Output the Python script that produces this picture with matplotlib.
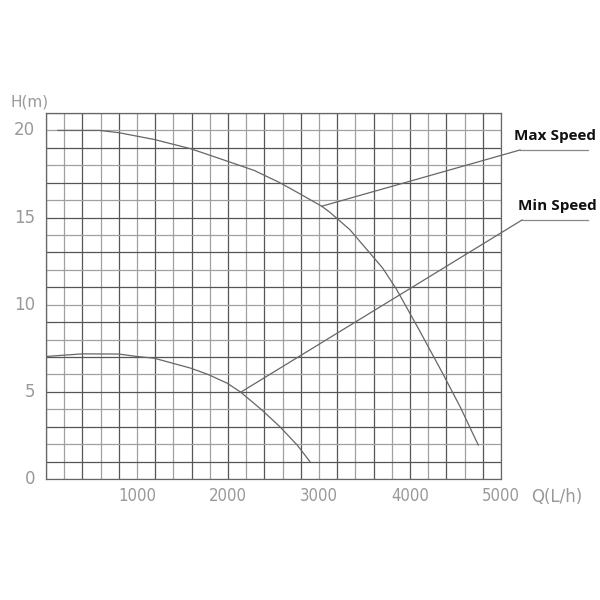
import matplotlib
matplotlib.use("Agg")
import matplotlib.pyplot as plt
import numpy as np

# Data
max_q = [130, 590, 800, 1190, 1590, 1990, 2290, 2570, 2760, 3030, 3120, 3340, 3520, 3700, 3850, 4100, 4355, 4555, 4750]
max_h = [20.0, 20.0, 19.87, 19.48, 18.95, 18.24, 17.7, 17.0, 16.45, 15.65, 15.3, 14.3, 13.2, 12.1, 10.9, 8.56, 6.1, 4.1, 1.95]
min_q = [0, 400, 800, 1000, 1190, 1590, 1780, 1990, 2140, 2370, 2570, 2760, 2900]
min_h = [7.03, 7.18, 7.17, 7.03, 6.93, 6.36, 6.0, 5.5, 4.98, 3.97, 3.0, 1.95, 1.0]
x_ticks = [1000, 2000, 3000, 4000, 5000]
x_tick_labels = ["1000", "2000", "3000", "4000", "5000"]
y_ticks = [0, 5, 10, 15, 20]
y_tick_labels = ["0", "5", "10", "15", "20"]
labels = ["Max Speed", "Min Speed"]
label_anchor_q = [3030, 2140]
label_anchor_h = [15.65, 4.98]

fig = plt.figure(figsize=(6, 6), dpi=100)
ax = fig.add_axes([46/600, 1-479/600, 455/600, 366/600])
ax.set_xlim(0, 5000)
ax.set_ylim(0, 21)

# grid
for i, q in enumerate(range(0, 5001, 200)):
    c = "#555555" if i % 2 == 0 else "#a0a0a0"
    ax.axvline(q, color=c, lw=0.9, zorder=1)
for i, h in enumerate(range(0, 22)):
    c = "#555555" if i % 2 == 1 else "#a0a0a0"
    ax.axhline(h, color=c, lw=0.9, zorder=1)
for s in ax.spines.values():
    s.set_color("#666666")
    s.set_linewidth(0.9)

ax.plot(max_q, max_h, color="#666666", lw=0.9, zorder=3)
ax.plot(min_q, min_h, color="#666666", lw=0.9, zorder=3)

ax.set_xticks([])
ax.set_yticks([])
tc = "#999999"
for q, t in zip(x_ticks, x_tick_labels):
    ax.text(q, -0.45, t, ha="center", va="top", fontsize=12, color=tc,
            fontstretch="condensed", family="DejaVu Sans", clip_on=False)
for h, t in zip(y_ticks, y_tick_labels):
    ax.text(-120, h, t, ha="right", va="center", fontsize=12, color=tc,
            family="DejaVu Sans", clip_on=False)
fig.text(10/600, 1-102/600, "H(m)", ha="left", va="center", fontsize=11, color=tc)
fig.text(531/600, 1-497/600, "Q(L/h)", ha="left", va="center", fontsize=12, color=tc)

# annotations
text_pos = [(520, 150), (522, 220)]
for lab, (px, py), aq, ah in zip(labels, text_pos, label_anchor_q, label_anchor_h):
    fx, fy = px/600, 1-py/600
    line_x1 = 588/600
    fig.add_artist(plt.Line2D([fx, line_x1], [fy, fy], color="#888888", lw=0.9))
    dx, dy = ax.transData.transform((aq, ah))
    fxa, fya = fig.transFigure.inverted().transform((dx, dy))
    fig.add_artist(plt.Line2D([fxa, fx], [fya, fy], color="#666666", lw=0.9))
    fig.text((px+35)/600, fy + 7/600, lab, ha="center", va="bottom",
             fontsize=11, fontweight="bold", family="Open Sans", color="#111111")

fig.savefig("out.png", dpi=100, facecolor="white")
